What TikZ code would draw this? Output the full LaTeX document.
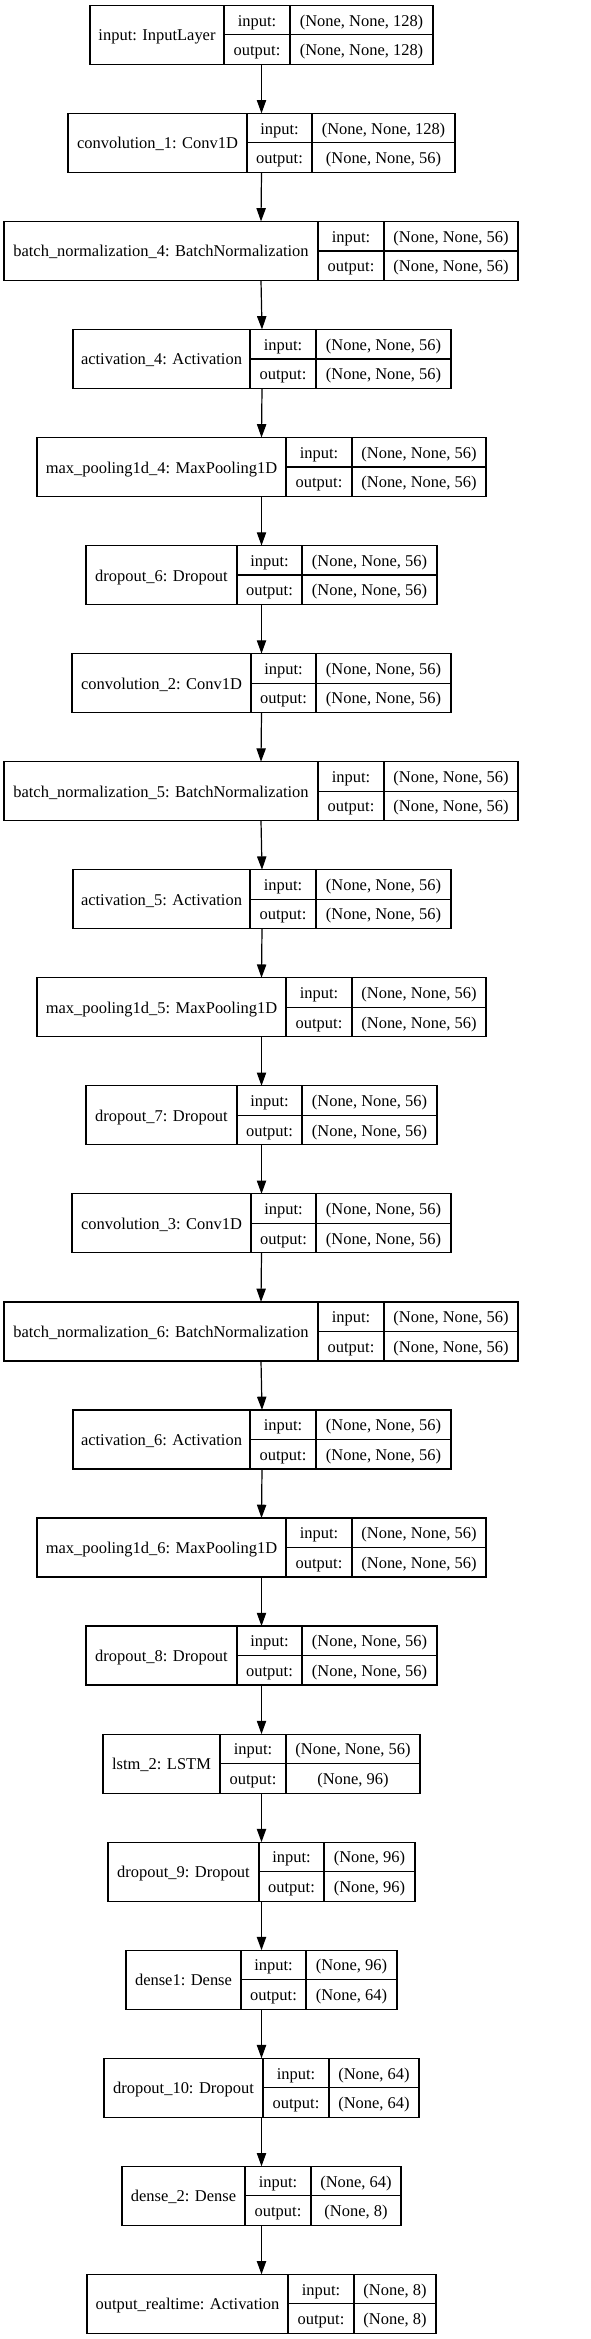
\documentclass[tikz,border=0pt]{standalone}
\usepackage{fontspec}
\setmainfont{Liberation Serif}
\usetikzlibrary{arrows.meta}
\tikzset{
  box/.style={draw=black, line width=1.2pt, minimum height=59pt, inner sep=0pt, outer sep=0pt},
  cell/.style={draw=black, line width=1.2pt},
  txt/.style={anchor=base, inner sep=0pt, font=\fontsize{16.46}{19}\selectfont},
  arr/.style={draw=black, line width=1.2pt, -{Triangle[length=13.3pt,width=9.3pt]}}
}
% #1 id, #2 index, #3 L, #4 d1, #5 d2, #6 R, #7 label, #8 input shape, #9 output shape
\newcommand\klayer[9]{%
  \pgfmathsetmacro\kT{5.3+#2*108.05}%
  \pgfmathsetmacro\kW{#6-#3}%
  \node[box, minimum width=\kW pt] (#1) at ({(#3+#6)/2}, {-(\kT+29.5)}) {};
  \draw[cell] (#4, {-\kT}) -- (#4, {-(\kT+59)});
  \draw[cell] (#5, {-\kT}) -- (#5, {-(\kT+59)});
  \draw[cell] (#4, {-(\kT+29.5)}) -- (#6, {-(\kT+29.5)});
  \node[txt] (#1-name) at ({(#3+#4)/2}, {-(\kT+29.5+6)}) {#7};
  \node[txt] (#1-inl) at ({(#4+#5)/2}, {-(\kT+14.75+6)}) {input:};
  \node[txt] (#1-outl) at ({(#4+#5)/2}, {-(\kT+44.25+6)}) {output:};
  \node[txt] (#1-inv) at ({(#5+#6)/2}, {-(\kT+14.75+6)}) {#8};
  \node[txt] (#1-outv) at ({(#5+#6)/2}, {-(\kT+44.25+6)}) {#9};
}
\begin{document}
\begin{tikzpicture}[x=1pt,y=1pt]
\fill[white] (0,0) rectangle (591,-2339);
\useasboundingbox (0,0) rectangle (591,-2339);
\klayer{l0}{0}{90}{224}{290}{433}{input: InputLayer}{(None, None, 128)}{(None, None, 128)}
\klayer{l1}{1}{68}{247}{312}{455}{convolution\_1: Conv1D}{(None, None, 128)}{(None, None, 56)}
\klayer{l2}{2}{4}{318}{384}{518}{batch\_normalization\_4: BatchNormalization}{(None, None, 56)}{(None, None, 56)}
\klayer{l3}{3}{73}{250}{316}{451}{activation\_4: Activation}{(None, None, 56)}{(None, None, 56)}
\klayer{l4}{4}{37}{286}{352}{486}{max\_pooling1d\_4: MaxPooling1D}{(None, None, 56)}{(None, None, 56)}
\klayer{l5}{5}{86}{237}{302}{437}{dropout\_6: Dropout}{(None, None, 56)}{(None, None, 56)}
\klayer{l6}{6}{72}{251}{316}{451}{convolution\_2: Conv1D}{(None, None, 56)}{(None, None, 56)}
\klayer{l7}{7}{4}{318}{384}{518}{batch\_normalization\_5: BatchNormalization}{(None, None, 56)}{(None, None, 56)}
\klayer{l8}{8}{73}{250}{316}{451}{activation\_5: Activation}{(None, None, 56)}{(None, None, 56)}
\klayer{l9}{9}{37}{286}{352}{486}{max\_pooling1d\_5: MaxPooling1D}{(None, None, 56)}{(None, None, 56)}
\klayer{l10}{10}{86}{237}{302}{437}{dropout\_7: Dropout}{(None, None, 56)}{(None, None, 56)}
\klayer{l11}{11}{72}{251}{316}{451}{convolution\_3: Conv1D}{(None, None, 56)}{(None, None, 56)}
\klayer{l12}{12}{4}{318}{384}{518}{batch\_normalization\_6: BatchNormalization}{(None, None, 56)}{(None, None, 56)}
\klayer{l13}{13}{73}{250}{316}{451}{activation\_6: Activation}{(None, None, 56)}{(None, None, 56)}
\klayer{l14}{14}{37}{286}{352}{486}{max\_pooling1d\_6: MaxPooling1D}{(None, None, 56)}{(None, None, 56)}
\klayer{l15}{15}{86}{237}{302}{437}{dropout\_8: Dropout}{(None, None, 56)}{(None, None, 56)}
\klayer{l16}{16}{103}{220}{286}{420}{lstm\_2: LSTM}{(None, None, 56)}{(None, 96)}
\klayer{l17}{17}{108}{259}{324}{415}{dropout\_9: Dropout}{(None, 96)}{(None, 96)}
\klayer{l18}{18}{126}{241}{306}{397}{dense1: Dense}{(None, 96)}{(None, 64)}
\klayer{l19}{19}{104}{263}{329}{419}{dropout\_10: Dropout}{(None, 64)}{(None, 64)}
\klayer{l20}{20}{122}{245}{311}{401}{dense\_2: Dense}{(None, 64)}{(None, 8)}
\klayer{l21}{21}{87}{288}{354}{436}{output\_realtime: Activation}{(None, 8)}{(None, 8)}
\foreach \a [evaluate=\a as \b using int(\a+1)] in {0,...,20} {
  \draw[arr] (l\a.south) -- (l\b.north);
}
\end{tikzpicture}
\end{document}
